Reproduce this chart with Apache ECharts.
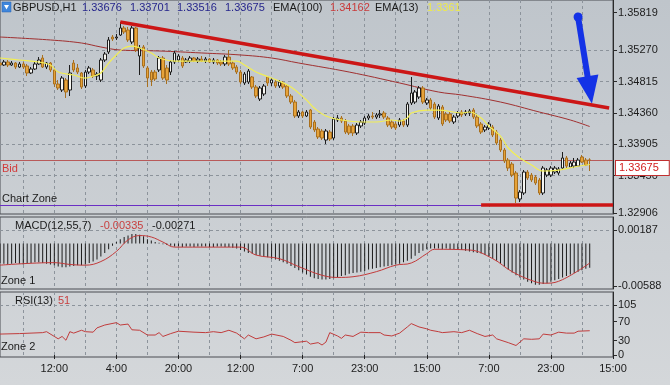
<!DOCTYPE html>
<html><head><meta charset="utf-8">
<script src="https://cdn.jsdelivr.net/npm/echarts@6/dist/echarts.min.js"></script>
<style>html,body{margin:0;padding:0;background:#cfd2d6;}#c{width:670px;height:385px;}</style>
</head><body><div id="c"></div>
<script>
// ---------- DATA ----------
const barCount = 159;                       // slots on the time axis
const timeLabels = ['12:00','4:00','20:00','12:00','7:00','23:00','15:00','7:00','23:00','15:00'];
const firstLabelIndex = 14, labelStep = 16; // a label every 16 hourly bars
const gridStart = 6, gridStep = 8;          // dashed vertical grid every 8 bars

// candles: [open, close, low, high]
const candles = [
[1.35085,1.35056,1.35027,1.35114],[1.35056,1.35100,1.35042,1.35129],[1.35100,1.35056,1.35027,1.35129],
[1.35056,1.35085,1.35042,1.35114],[1.35085,1.35027,1.34998,1.35100],[1.35027,1.35071,1.35013,1.35100],
[1.35071,1.35027,1.34998,1.35100],[1.35042,1.34940,1.34896,1.35071],[1.34940,1.34998,1.34925,1.35027],
[1.34998,1.35071,1.34984,1.35100],[1.35071,1.35129,1.35056,1.35172],[1.35158,1.35027,1.35013,1.35202],
[1.35027,1.35085,1.34998,1.35100],[1.35085,1.34984,1.34954,1.35100],[1.34984,1.34780,1.34736,1.34998],
[1.34780,1.34722,1.34693,1.34838],[1.34693,1.34867,1.34664,1.34896],[1.34838,1.34664,1.34577,1.34867],
[1.34693,1.34940,1.34606,1.35056],[1.35085,1.34984,1.34954,1.35129],[1.35013,1.34954,1.34925,1.35071],
[1.34940,1.34736,1.34707,1.34954],[1.34751,1.34954,1.34722,1.34984],[1.34954,1.35013,1.34925,1.35042],
[1.34984,1.34896,1.34867,1.35013],[1.34896,1.34925,1.34838,1.34954],[1.34838,1.35129,1.34809,1.35158],
[1.35129,1.35216,1.35100,1.35245],[1.35245,1.35420,1.35216,1.35463],[1.35463,1.35434,1.35405,1.35492],
[1.35449,1.35463,1.35420,1.35507],[1.35492,1.35594,1.35478,1.35681],[1.35594,1.35536,1.35507,1.35623],
[1.35565,1.35420,1.35391,1.35609],[1.35391,1.35594,1.35361,1.35623],[1.35594,1.35274,1.35245,1.35609],
[1.35187,1.35303,1.34911,1.35347],[1.35318,1.35042,1.35013,1.35347],[1.35013,1.34867,1.34736,1.35042],
[1.34954,1.34838,1.34751,1.34984],[1.34954,1.34853,1.34824,1.34984],[1.34984,1.35158,1.34954,1.35187],
[1.35158,1.34867,1.34838,1.35187],[1.35013,1.34838,1.34780,1.35056],[1.34954,1.35100,1.34911,1.35129],
[1.35100,1.35231,1.35071,1.35260],[1.35129,1.35187,1.35100,1.35216],[1.35158,1.35042,1.35013,1.35187],
[1.35100,1.35129,1.35085,1.35158],[1.35114,1.35158,1.35085,1.35187],[1.35158,1.35114,1.35100,1.35172],
[1.35114,1.35143,1.35085,1.35172],[1.35143,1.35114,1.35100,1.35187],[1.35114,1.35143,1.35085,1.35172],
[1.35143,1.35100,1.35085,1.35158],[1.35100,1.35129,1.35071,1.35158],[1.35129,1.35085,1.35056,1.35143],
[1.35100,1.35071,1.35042,1.35129],[1.35071,1.35172,1.35042,1.35202],[1.35172,1.35071,1.35042,1.35274],
[1.35085,1.35013,1.34984,1.35114],[1.35027,1.34954,1.34925,1.35056],[1.34954,1.34809,1.34780,1.34984],
[1.34795,1.34925,1.34766,1.34954],[1.34809,1.34969,1.34780,1.34998],[1.34882,1.34736,1.34707,1.34896],
[1.34736,1.34606,1.34577,1.34766],[1.34562,1.34722,1.34533,1.34751],[1.34635,1.34751,1.34606,1.34780],
[1.34882,1.34795,1.34751,1.34896],[1.34795,1.34838,1.34751,1.34867],[1.34809,1.34751,1.34722,1.34838],
[1.34751,1.34809,1.34722,1.34838],[1.34795,1.34736,1.34707,1.34824],[1.34751,1.34606,1.34577,1.34780],
[1.34606,1.34518,1.34489,1.34635],[1.34518,1.34315,1.34286,1.34548],[1.34315,1.34373,1.34286,1.34402],
[1.34373,1.34315,1.34286,1.34388],[1.34315,1.34373,1.34300,1.34402],[1.34402,1.34155,1.34126,1.34417],
[1.34228,1.34112,1.34082,1.34257],[1.34126,1.34010,1.33981,1.34155],[1.34097,1.33995,1.33966,1.34126],
[1.33966,1.34097,1.33908,1.34126],[1.34082,1.33981,1.33952,1.34112],[1.33995,1.34271,1.33966,1.34300],
[1.34257,1.34286,1.34228,1.34330],[1.34286,1.34242,1.34213,1.34315],[1.34242,1.34082,1.34053,1.34271],
[1.34170,1.34068,1.34039,1.34199],[1.34170,1.34068,1.34024,1.34199],[1.34068,1.34184,1.34039,1.34213],
[1.34170,1.34228,1.34141,1.34257],[1.34213,1.34286,1.34184,1.34315],[1.34286,1.34315,1.34257,1.34344],
[1.34315,1.34300,1.34271,1.34373],[1.34300,1.34330,1.34271,1.34359],[1.34330,1.34344,1.34286,1.34402],
[1.34359,1.34300,1.34271,1.34388],[1.34286,1.34184,1.34155,1.34315],[1.34228,1.34155,1.34126,1.34257],
[1.34199,1.34141,1.34112,1.34228],[1.34184,1.34257,1.34155,1.34286],[1.34242,1.34184,1.34155,1.34271],
[1.34184,1.34489,1.34155,1.34518],[1.34504,1.34649,1.34475,1.34882],[1.34518,1.34664,1.34489,1.34693],
[1.34591,1.34722,1.34562,1.34751],[1.34722,1.34518,1.34489,1.34751],[1.34504,1.34548,1.34475,1.34577],
[1.34548,1.34431,1.34402,1.34577],[1.34489,1.34300,1.34271,1.34518],[1.34286,1.34460,1.34257,1.34489],
[1.34446,1.34199,1.34170,1.34475],[1.34344,1.34257,1.34228,1.34373],[1.34344,1.34242,1.34213,1.34373],
[1.34228,1.34300,1.34199,1.34330],[1.34315,1.34359,1.34286,1.34388],[1.34373,1.34330,1.34300,1.34402],
[1.34344,1.34373,1.34315,1.34402],[1.34359,1.34388,1.34315,1.34417],[1.34402,1.34300,1.34271,1.34431],
[1.34300,1.34170,1.34141,1.34330],[1.34199,1.34082,1.34053,1.34228],[1.34112,1.34155,1.34082,1.34184],
[1.34141,1.34199,1.34112,1.34228],[1.34155,1.34039,1.34010,1.34184],[1.34082,1.33923,1.33893,1.34112],
[1.33966,1.33821,1.33792,1.33995],[1.33821,1.33661,1.33632,1.33850],[1.33675,1.33559,1.33516,1.33705],
[1.33617,1.33457,1.33428,1.33646],[1.33487,1.33123,1.33051,1.33516],[1.33109,1.33210,1.33065,1.33239],
[1.33196,1.33501,1.33167,1.33530],[1.33501,1.33414,1.33385,1.33530],[1.33457,1.33385,1.33356,1.33487],
[1.33428,1.33341,1.33312,1.33457],[1.33385,1.33196,1.33167,1.33414],[1.33196,1.33559,1.33167,1.33588],
[1.33457,1.33530,1.33428,1.33559],[1.33457,1.33559,1.33428,1.33588],[1.33501,1.33559,1.33472,1.33588],
[1.33487,1.33545,1.33457,1.33574],[1.33559,1.33705,1.33530,1.33792],[1.33705,1.33588,1.33559,1.33734],
[1.33574,1.33632,1.33559,1.33661],[1.33588,1.33646,1.33559,1.33705],[1.33588,1.33675,1.33574,1.33705],
[1.33719,1.33646,1.33632,1.33748],[1.33675,1.33603,1.33588,1.33705],[1.33676,1.33675,1.33516,1.33701]
];

// EMA(100) read points [bar, price]
const ema100 = [[0,1.35463],[13,1.35420],[21,1.35376],[26,1.35318],[31,1.35274],[41,1.35260],[52,1.35231],
[62,1.35202],[70,1.35158],[77,1.35085],[90,1.34954],[103,1.34795],[113,1.34664],[119,1.34620],[129,1.34518],
[139,1.34373],[147,1.34257],[152,1.34162]];
// EMA(13) read points [bar, price]
const ema13 = [[0,1.35158],[5,1.35129],[10,1.35100],[13,1.35056],[15,1.34954],[19,1.34911],[22,1.34867],[24,1.34896],
[26,1.34940],[28,1.35085],[30,1.35202],[32,1.35303],[34,1.35332],[36,1.35303],[39,1.35231],[41,1.35158],[45,1.35114],
[52,1.35114],[58,1.35114],[61,1.35114],[63,1.35056],[66,1.34954],[70,1.34867],[75,1.34736],[79,1.34548],[81,1.34431],
[84,1.34315],[88,1.34257],[93,1.34228],[97,1.34228],[101,1.34257],[103,1.34242],[105,1.34286],[106,1.34359],
[110,1.34402],[113,1.34402],[119,1.34359],[121,1.34373],[124,1.34286],[126,1.34170],[129,1.34024],[131,1.33850],
[134,1.33705],[137,1.33603],[140,1.33516],[144,1.33530],[148,1.33574],[152,1.33610]];

const priceLabels = [1.32906,1.33450,1.33905,1.34360,1.34815,1.35270,1.35819];
const priceGrid = [1.33450,1.33905,1.34360,1.34815,1.35270];
const priceMin = 1.32891, priceMax = 1.36001;
const bidPrice = 1.33675;
const chartZonePrice = 1.33022;
const trendLine = [[31,1.35681],[157,1.34431]];
const supportLine = [[124,1.33022],[158,1.33022]];
const arrowFrom = [149,1.35754], arrowTo = [152,1.34693];

// MACD(12,55,7) histogram per bar
const macdHist = [
-0.0027,-0.0028,-0.0029,-0.0028,-0.0027,-0.0028,-0.0029,-0.0028,-0.0027,-0.0026,-0.0026,-0.0027,-0.0028,-0.0029,-0.0030,-0.0032,-0.0033,
-0.0033,-0.0032,-0.0031,-0.0030,-0.0030,-0.0029,
-0.0027,-0.0025,-0.0022,-0.0018,-0.0013,
-0.0008,-0.0003,0.0002,0.0006,0.0009,0.0011,
0.0013,0.0013,0.0012,0.0010,
0.0006,0.0004,0.0002,0.0001,-0.0001,-0.0002,
-0.0003,-0.0004,-0.0004,-0.0005,-0.0004,-0.0004,-0.0005,-0.0004,-0.0004,-0.0004,-0.0005,-0.0005,-0.0004,-0.0004,-0.0005,-0.0005,-0.0006,-0.0007,-0.0009,
-0.0011,-0.0013,-0.0014,-0.0016,-0.0017,-0.0018,-0.0019,-0.0021,-0.0022,-0.0024,-0.0026,-0.0028,-0.0031,-0.0034,-0.0037,-0.0040,
-0.0043,-0.0046,-0.0048,-0.0049,-0.0050,-0.0050,-0.0049,-0.0048,-0.0047,-0.0045,
-0.0044,-0.0042,-0.0041,-0.0040,-0.0039,-0.0038,-0.0036,-0.0035,-0.0034,-0.0033,-0.0032,-0.0031,-0.0030,-0.0029,-0.0028,-0.0026,
-0.0024,-0.0021,-0.0017,-0.0013,-0.0010,-0.0008,-0.0007,-0.0007,
-0.0007,-0.0008,-0.0007,-0.0008,-0.0008,-0.0009,-0.0009,-0.0010,-0.0011,-0.0012,-0.0013,-0.0014,
-0.0016,-0.0018,-0.0021,-0.0024,-0.0028,-0.0032,-0.0036,-0.0040,-0.0044,-0.0047,-0.0050,-0.0053,-0.0055,-0.0057,-0.0057,
-0.0056,-0.0055,-0.0053,-0.0051,-0.0049,-0.0047,-0.0045,-0.0043,-0.0041,-0.0039,-0.0037,-0.0035,-0.00335
];
// MACD signal read points [bar, value]
const macdSignal = [[0,-0.0030],[14,-0.00265],[18,-0.0029],[22,-0.0030],[26,-0.0025],[30,-0.0011],[33,0.0005],
[36,0.0011],[39,0.0009],[42,0.0002],[45,-0.0005],[62,-0.0005],[66,-0.0016],[72,-0.0021],[77,-0.0032],[83,-0.0044],
[87,-0.0047],[91,-0.0046],[97,-0.0039],[102,-0.0030],[106,-0.0027],[110,-0.0014],[112,-0.0008],[121,-0.0009],
[127,-0.0021],[132,-0.0039],[138,-0.0053],[141,-0.0055],[145,-0.0050],[152,-0.00271]];
const macdLabels = [-0.00588, 0.00187];
const macdMin = -0.0063, macdMax = 0.00367;

// RSI(13) read points [bar, value]
const rsi = [[0,44],[5,45],[11,47],[12,49],[14,39],[15,34],[16,39],[17,31],[18,49],[19,46],[21,52],[22,49],[24,48],
[25,57],[27,63],[30,68],[31,63],[33,65],[34,53],[36,52],[38,42],[40,42],[41,47],[42,39],[44,45],[46,50],[50,48],
[53,47],[55,49],[57,47],[59,52],[61,46],[63,34],[64,42],[66,34],[68,38],[70,44],[73,39],[75,31],[76,26],[79,29],
[80,23],[82,26],[83,21],[84,27],[85,47],[87,40],[88,35],[89,42],[91,39],[93,48],[95,47],[98,47],[99,42],[101,40],
[103,46],[105,59],[106,66],[108,59],[110,55],[111,52],[113,49],[114,47],[117,49],[119,47],[121,52],[123,45],
[125,39],[127,42],[128,34],[131,26],[133,20],[135,34],[137,33],[139,34],[140,44],[142,42],[144,48],[146,46],
[148,46],[149,50],[152,51]];
const rsiLabels = [0,30,70,105];
const rsiMin = -4.2, rsiMax = 132.4;

const headerValues = ['1.33676','1.33701','1.33516','1.33675'];

// ---------- CHART ----------
const categories = [];
for (let i = 0; i < barCount; i++) categories.push(String(i));
const labelAt = {};
timeLabels.forEach((t, k) => { labelAt[firstLabelIndex + labelStep * k] = t; });

const FONT = '"Liberation Sans", Arial, sans-serif';
const gridColor = '#8c939b';
const frameColor = '#4a4d52';

function vGrid(i) { return i >= gridStart && (i - gridStart) % gridStep === 0; }

function xAxisFor(gi, showLabels) {
  return {
    type: 'category', gridIndex: gi, data: categories, boundaryGap: false,
    axisLine: { show: false },
    axisTick: showLabels ? { show: true, length: 4, interval: i => labelAt[i] !== undefined, lineStyle: { color: '#222' } } : { show: false },
    axisLabel: showLabels ? {
      show: true, interval: i => labelAt[i] !== undefined, formatter: (v) => labelAt[Number(v)] || '',
      color: '#1c1c1c', fontSize: 11, fontFamily: FONT, margin: 6
    } : { show: false },
    splitLine: { show: true, interval: vGrid, lineStyle: { color: gridColor, type: [3, 3], width: 1 } }
  };
}

function yAxisFor(gi, min, max, vals, fmt) {
  return {
    type: 'value', gridIndex: gi, position: 'right', min: min, max: max, scale: true,
    axisLine: { show: true, lineStyle: { color: '#2a2a2a' } },
    axisTick: { show: true, customValues: vals, length: 4, lineStyle: { color: '#2a2a2a' } },
    axisLabel: { show: true, customValues: vals, formatter: fmt, color: '#1c1c1c', fontSize: 11, fontFamily: FONT, margin: 5 },
    splitLine: { show: false }
  };
}

const dashed = { color: gridColor, type: [3, 3], width: 1 };

function txt(x, y, s, fill) {
  return { type: 'text', x: x, y: y, z: 100, silent: true,
    style: { text: s, fill: fill, font: '11px ' + FONT, verticalAlign: 'middle' } };
}

const option = {
  animation: false,
  backgroundColor: { type: 'linear', x: 0, y: 0, x2: 0, y2: 1,
    colorStops: [{ offset: 0, color: '#bfc5cb' }, { offset: 1, color: '#d4d7da' }] },
  grid: [
    { left: 0, right: 57, top: 0, height: 214, show: true, borderColor: frameColor, borderWidth: 1, backgroundColor: 'transparent' },
    { left: 0, right: 57, top: 217, height: 72, show: true, borderColor: frameColor, borderWidth: 1, backgroundColor: 'transparent' },
    { left: 0, right: 57, top: 292, height: 65, show: true, borderColor: frameColor, borderWidth: 1, backgroundColor: 'transparent' }
  ],
  xAxis: [xAxisFor(0, false), xAxisFor(1, false), xAxisFor(2, true)],
  yAxis: [
    yAxisFor(0, priceMin, priceMax, priceLabels, v => v.toFixed(5)),
    yAxisFor(1, macdMin, macdMax, macdLabels, v => v.toFixed(5)),
    yAxisFor(2, rsiMin, rsiMax, rsiLabels, v => String(v))
  ],
  series: [
    {
      type: 'candlestick', xAxisIndex: 0, yAxisIndex: 0, data: candles, barWidth: 3, z: 3,
      itemStyle: { color: '#f6f6f2', color0: '#e6a33a', borderColor: '#1d1d1d', borderColor0: '#a86f1e', borderWidth: 1 },
      markLine: {
        silent: true, symbol: 'none', animation: false, z: 1, precision: 5,
        data: priceGrid.map(v => ({ yAxis: v, lineStyle: dashed, label: { show: false } })).concat([
          { yAxis: chartZonePrice, lineStyle: { color: '#6a2fc4', width: 1, type: 'solid' },
            label: { show: true, position: 'insideStartTop', formatter: 'Chart Zone', color: '#1c1c1c', fontSize: 11, fontFamily: FONT, distance: [2, 1] } },
          { yAxis: bidPrice, lineStyle: { color: '#b85a5a', width: 1, type: 'solid' },
            label: { show: true, position: 'insideStartBottom', formatter: 'Bid', color: '#d23a3a', fontSize: 11, fontFamily: FONT, distance: [2, 3] } },
          { yAxis: bidPrice, lineStyle: { color: '#b85a5a', width: 1, type: 'solid' },
            label: { show: true, position: 'end', formatter: '1.33675', color: '#d42020', fontSize: 11, fontFamily: FONT,
              backgroundColor: '#ffffff', borderColor: '#c23030', borderWidth: 1, padding: [2, 10, 1, 3], distance: 3, offset: [0, 8] } }
        ])
      }
    },
    { type: 'line', xAxisIndex: 0, yAxisIndex: 0, data: ema100, smooth: 0.4, showSymbol: false, z: 2,
      lineStyle: { color: '#a03030', width: 1 } },
    { type: 'line', xAxisIndex: 0, yAxisIndex: 0, data: ema13, smooth: 0.4, showSymbol: false, z: 4,
      lineStyle: { color: '#f2ee55', width: 1.2 } },
    { type: 'line', xAxisIndex: 0, yAxisIndex: 0, data: supportLine, showSymbol: false, z: 5,
      lineStyle: { color: '#cc1616', width: 3.5 } },
    { type: 'line', xAxisIndex: 0, yAxisIndex: 0, data: trendLine, showSymbol: false, z: 5,
      lineStyle: { color: '#cc1616', width: 3.5 },
      markLine: {
        silent: true, animation: false, precision: 5,
        lineStyle: { color: '#1432e6', width: 6, type: 'solid', curveness: -0.15, opacity: 1 },
        itemStyle: { color: '#1432e6' },
        label: { show: false },
        data: [[
          { coord: arrowFrom, symbol: 'circle', symbolSize: 9 },
          { coord: arrowTo, symbol: 'triangle', symbolSize: [22, 28] }
        ]]
      } },
    { type: 'bar', xAxisIndex: 1, yAxisIndex: 1, data: macdHist, barWidth: 1, z: 2,
      itemStyle: { color: '#1b1b1b' },
      markLine: { silent: true, symbol: 'none', animation: false, precision: 5,
        data: [{ yAxis: macdLabels[1], lineStyle: dashed, label: { show: false } }] } },
    { type: 'line', xAxisIndex: 1, yAxisIndex: 1, data: macdSignal, smooth: 0.4, showSymbol: false, z: 3,
      lineStyle: { color: '#c23a3a', width: 1 } },
    { type: 'line', xAxisIndex: 2, yAxisIndex: 2, data: rsi, showSymbol: false, z: 3,
      lineStyle: { color: '#c03c3c', width: 1 },
      markLine: { silent: true, symbol: 'none', animation: false,
        data: [{ yAxis: rsiLabels[3], lineStyle: dashed, label: { show: false } }] } }
  ],
  graphic: { elements: [
    { type: 'rect', shape: { x: 2, y: 2, width: 9, height: 10 }, z: 100, silent: true,
      style: { fill: '#3f86dc', stroke: '#2a62b0', lineWidth: 0.5 } },
    { type: 'polygon', shape: { points: [[4, 5], [9, 5], [6.5, 9.5]] }, z: 101, silent: true, style: { fill: '#ffffff' } },
    txt(13, 8, 'GBPUSD,H1', '#1a1a1a'),
    txt(82, 8, headerValues[0], '#26268c'),
    txt(130, 8, headerValues[1], '#26268c'),
    txt(177, 8, headerValues[2], '#26268c'),
    txt(225, 8, headerValues[3], '#26268c'),
    txt(273, 8, 'EMA(100)', '#1a1a1a'),
    txt(330, 8, '1.34162', '#c83a3a'),
    txt(375, 8, 'EMA(13)', '#1a1a1a'),
    txt(427, 8, '1.3361', '#eeea4a'),
    txt(15, 226, 'MACD(12,55,7)', '#1a1a1a'),
    txt(100, 226, '-0.00335', '#c84040'),
    txt(152, 226, '-0.00271', '#1a1a1a'),
    txt(1, 281, 'Zone 1', '#1a1a1a'),
    txt(15, 301, 'RSI(13)', '#1a1a1a'),
    txt(58, 301, '51', '#c84040'),
    txt(1, 347, 'Zone 2', '#1a1a1a')
  ] }
};

const chart = echarts.init(document.getElementById('c'), null, { renderer: 'canvas' });
chart.setOption(option);
</script>
</body></html>
